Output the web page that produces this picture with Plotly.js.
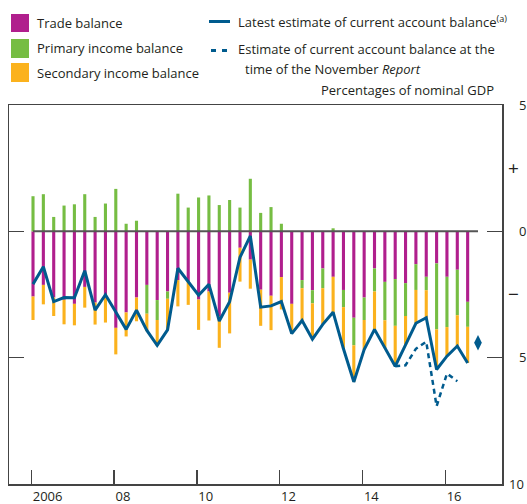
<!DOCTYPE html>
<html><head><meta charset="utf-8">
<script src="https://cdn.plot.ly/plotly-3.0.1.min.js"></script>
<style>html,body{margin:0;padding:0;background:#fff}#chart{width:527px;height:504px}</style>
</head><body><div id="chart"></div>
<script>
const quarters = ['2006Q1','2006Q2','2006Q3','2006Q4','2007Q1','2007Q2','2007Q3','2007Q4',
'2008Q1','2008Q2','2008Q3','2008Q4','2009Q1','2009Q2','2009Q3','2009Q4',
'2010Q1','2010Q2','2010Q3','2010Q4','2011Q1','2011Q2','2011Q3','2011Q4',
'2012Q1','2012Q2','2012Q3','2012Q4','2013Q1','2013Q2','2013Q3','2013Q4',
'2014Q1','2014Q2','2014Q3','2014Q4','2015Q1','2015Q2','2015Q3','2015Q4',
'2016Q1','2016Q2','2016Q3'];
const tradeBalance = [-2.58,-2.12,-2.62,-2.71,-2.87,-2.20,-2.82,-2.62,
-3.82,-3.21,-2.62,-2.12,-2.72,-2.38,-1.93,-1.98,
-2.70,-2.38,-3.35,-2.43,-0.65,-1.12,-2.31,-2.55,
-1.81,-2.87,-1.93,-2.33,-1.47,-1.80,-2.32,-3.42,
-2.62,-1.47,-2.00,-1.89,-2.05,-1.30,-1.80,-1.27,
-1.80,-1.52,-2.79];
const primaryIncome = [1.39,1.47,0.57,1.02,1.07,1.47,0.57,1.10,
1.68,0.30,0.42,-1.14,-0.79,-0.29,1.49,0.94,
1.34,1.42,1.04,1.24,0.94,2.08,0.73,0.96,
0.30,0.00,-0.32,-0.52,-0.78,0.12,-0.68,-1.09,
-0.89,-0.91,-1.52,-1.85,-1.30,-1.02,-0.53,-2.61,
-1.99,-1.80,-0.99];
const secondaryIncome = [-0.93,-0.77,-0.73,-0.97,-0.85,-0.82,-0.87,-0.99,
-1.05,-0.95,-0.94,-0.69,-1.02,-1.23,-1.04,-0.93,
-1.20,-1.15,-1.26,-1.61,-1.34,-1.15,-1.43,-1.36,
-1.28,-1.18,-1.28,-1.42,-1.43,-1.52,-1.65,-1.45,
-1.17,-1.50,-1.10,-1.60,-1.14,-1.32,-1.09,-1.59,
-1.15,-1.22,-1.43];
const currentAccount = [-2.09,-1.40,-2.78,-2.62,-2.63,-1.56,-3.12,-2.51,
-3.19,-3.88,-3.12,-3.92,-4.51,-3.90,-1.46,-1.98,
-2.53,-2.10,-3.55,-2.79,-1.03,-0.18,-3.00,-2.95,
-2.78,-4.05,-3.53,-4.27,-3.68,-3.20,-4.65,-5.96,
-4.68,-3.88,-4.62,-5.34,-4.49,-3.64,-3.42,-5.47,
-4.94,-4.54,-5.21];
const novemberQuarters = ['2014Q4','2015Q1','2015Q2','2015Q3','2015Q4','2016Q1','2016Q2'];
const novemberEstimate = [-5.34,-5.30,-4.65,-4.37,-6.92,-5.63,-5.93];
const projectionQuarters = ['2016Q4'];
const projectionValues = [-4.41];
const yearTickVals = [2006,2008,2010,2012,2014,2016];
const yearTickText = ['2006','08','10','12','14','16'];
const yTickVals = [5,0,-5];
const yTickText = ['5','0','5'];
const bottomTickVals = [-10];
const bottomTickText = ['10'];
const signTickVals = [2.5,-2.5];
const signTickText = ['+','\u2212'];

const C_TRADE='#B01F8D', C_PRIM='#76BD43', C_SEC='#FBB21D', C_LINE='#005B8E', C_AX='#444';
function qx(q){ const y=+q.slice(0,4), n=+q.slice(5); return y+(n-1)/4+0.04; }
const xq = quarters.map(qx);
const L=9, R=25, T=105, B=20, W=527, H=504;
const pw=W-L-R, ph=H-T-B;
const px = X => (X-L)/pw, py = Y => (H-B-Y)/ph;
const font = "'Open Sans', 'Noto Sans', sans-serif";
const TXT = '#231F20';

const bw = 0.075;
const traces = [
 {type:'bar', x:xq, y:tradeBalance, width:bw, marker:{color:C_TRADE}, name:'Trade balance', hoverinfo:'skip'},
 {type:'bar', x:xq, y:primaryIncome, width:bw, marker:{color:C_PRIM}, name:'Primary income balance', hoverinfo:'skip'},
 {type:'bar', x:xq, y:secondaryIncome, width:bw, marker:{color:C_SEC}, name:'Secondary income balance', hoverinfo:'skip'},
 {type:'scatter', mode:'lines', x:novemberQuarters.map(qx), y:novemberEstimate, line:{color:C_LINE,width:2.5,dash:'5px,4px'}, hoverinfo:'skip'},
 {type:'scatter', mode:'lines', x:xq, y:currentAccount, line:{color:C_LINE,width:3}, hoverinfo:'skip'},
 {type:'scatter', mode:'markers', x:projectionQuarters.map(qx), y:projectionValues, marker:{symbol:'diamond-tall',size:11,color:C_LINE}, hoverinfo:'skip'},
 {type:'scatter', x:[2010], y:[0], yaxis:'y2', mode:'markers', marker:{opacity:0}, hoverinfo:'skip'},
 {type:'scatter', x:[2010], y:[0], yaxis:'y3', mode:'markers', marker:{opacity:0}, hoverinfo:'skip'}
];

const ann = [];
function text(X,Y,t){ ann.push({xref:'paper',yref:'paper',x:px(X),y:py(Y),xanchor:'left',yanchor:'middle',text:t,showarrow:false,font:{family:font,size:13,color:TXT}}); }
text(35,23,'Trade balance');
text(35,48,'Primary income balance');
text(35,73,'Secondary income balance');
text(236,22,'Latest estimate of current account balance<sup>(a)</sup>');
text(236,49,'Estimate of current account balance at the');
text(243,69,'time of the November <i>Report</i>');
text(319,90,'Percentages of nominal GDP');

const shapes = [
 {type:'rect',xref:'paper',yref:'paper',x0:px(11),x1:px(29),y0:py(14),y1:py(32),fillcolor:C_TRADE,line:{width:0}},
 {type:'rect',xref:'paper',yref:'paper',x0:px(11),x1:px(29),y0:py(39),y1:py(58),fillcolor:C_PRIM,line:{width:0}},
 {type:'rect',xref:'paper',yref:'paper',x0:px(11),x1:px(29),y0:py(63),y1:py(82),fillcolor:C_SEC,line:{width:0}},
 {type:'line',xref:'paper',yref:'paper',x0:px(209),x1:px(230),y0:py(21.5),y1:py(21.5),line:{color:C_LINE,width:3}},
 {type:'line',xref:'paper',yref:'paper',x0:px(211),x1:px(227),y0:py(50.5),y1:py(50.5),line:{color:C_LINE,width:3,dash:'5px,6px'}},
 {type:'line',xref:'x',yref:'y',x0:qx(quarters[0]),x1:qx(projectionQuarters[0]),y0:0,y1:0,line:{color:'#555',width:2},layer:'above'}
];

const layout = {
 width:W, height:H, margin:{l:L,r:R,t:T,b:B}, paper_bgcolor:'#fff', plot_bgcolor:'#fff',
 barmode:'relative', showlegend:false, font:{family:font,size:13,color:TXT},
 xaxis:{range:[2005.46,2017.37], tickvals:yearTickVals, ticktext:yearTickText, ticks:'inside', ticklen:14, tickwidth:1.3, tickcolor:C_AX,
   ticklabelposition:'outside right', showline:true, mirror:true, linecolor:C_AX, linewidth:1.5, showgrid:false, zeroline:false, fixedrange:true,
   tickfont:{family:font,size:13,color:TXT}},
 yaxis:{range:[-10,5], side:'right', tickvals:yTickVals, ticktext:yTickText, ticks:'inside', ticklen:15, tickwidth:1.3, tickcolor:C_AX,
   showline:true, mirror:'ticks', linecolor:C_AX, linewidth:1.5, showgrid:false, zeroline:false, fixedrange:true, ticklabelstandoff:13,
   tickfont:{family:font,size:13,color:TXT}},
 yaxis2:{range:[-10,5], overlaying:'y', side:'right', tickvals:signTickVals, ticktext:signTickText, ticks:'', showline:false,
   showgrid:false, zeroline:false, fixedrange:true, ticklabelstandoff:5, tickfont:{family:font,size:19,color:TXT}},
 yaxis3:{range:[-10,5], overlaying:'y', side:'right', tickvals:bottomTickVals, ticktext:bottomTickText, ticks:'', showline:false,
   showgrid:false, zeroline:false, fixedrange:true, ticklabelstandoff:6, tickfont:{family:font,size:13,color:TXT}},
 annotations:ann, shapes:shapes
};
Plotly.newPlot('chart', traces, layout, {staticPlot:true, displayModeBar:false});
</script></body></html>
